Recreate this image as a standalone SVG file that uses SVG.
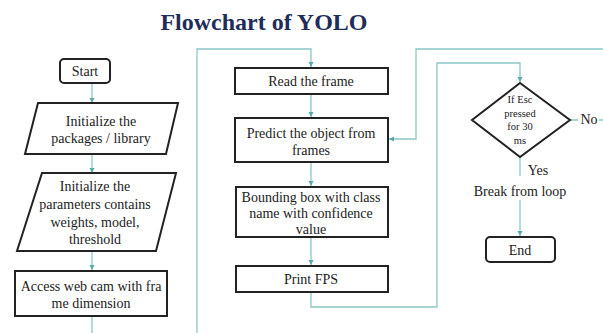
<svg xmlns="http://www.w3.org/2000/svg" width="603" height="333" viewBox="0 0 603 333">
<defs>
<marker id="ah" markerWidth="6" markerHeight="6" refX="5" refY="3" orient="auto" markerUnits="userSpaceOnUse">
<path d="M0,0.5 L5,3 L0,5.5 Z" fill="#5aa8a8"/>
</marker>
<style>
.b{fill:#fff;stroke:#222;stroke-width:2}
text{font-family:'Liberation Serif','Times New Roman',Times,serif}
.t{font-size:14px;fill:#222;text-anchor:middle}
.s{font-size:10.5px}
.c{fill:none;stroke:#8cc6c6;stroke-width:1.3}
.ca{fill:none;stroke:#8cc6c6;stroke-width:1.3;marker-end:url(#ah)}
</style>
</defs>
<rect width="603" height="333" fill="#fff"/>
<text x="264" y="30" font-weight="bold" font-size="24" fill="#1f2d5a" text-anchor="middle">Flowchart of YOLO</text>

<g id="connectors">
<path class="ca" d="M92,83 V103"/>
<path class="ca" d="M92,154 V173"/>
<path class="ca" d="M92,252 V270"/>
<path class="c" d="M92,316 V333"/>
<path class="ca" d="M197,333 V49 H311 V67"/>
<path class="ca" d="M311,94 V117"/>
<path class="ca" d="M311,162 V186"/>
<path class="ca" d="M311,237 V265"/>
<path class="ca" d="M311,292 V307 H437 V63 H520 V82"/>
<path class="c" d="M570,120 H603"/>
<path class="ca" d="M603,49 H416 V139 H389"/>
<path class="c" d="M520,157 V176"/>
<path class="ca" d="M520,200 V236"/>
</g>

<g id="start">
<rect class="b" x="60" y="59" width="50" height="24" rx="4"/>
<text class="t" x="85" y="76">Start</text>
</g>
<g id="init-packages">
<polygon class="b" points="38,103 178,103 166,154 25,154"/>
<text class="t" x="101" y="126">Initialize the</text>
<text class="t" x="101" y="143">packages / library</text>
</g>
<g id="init-params">
<polygon class="b" points="42,173 176,173 156,251 17,251"/>
<text class="t" x="95" y="191">Initialize the</text>
<text class="t" x="95" y="209">parameters contains</text>
<text class="t" x="95" y="227">weights, model,</text>
<text class="t" x="95" y="244">threshold</text>
</g>
<g id="access-cam">
<rect class="b" x="15" y="271" width="152" height="45"/>
<text class="t" x="91" y="291">Access web cam with fra</text>
<text class="t" x="91" y="308">me dimension</text>
</g>
<g id="read-frame">
<rect class="b" x="235" y="68" width="153" height="26"/>
<text class="t" x="311" y="86">Read the frame</text>
</g>
<g id="predict">
<rect class="b" x="235" y="118" width="153" height="44"/>
<text class="t" x="311" y="138">Predict the object from</text>
<text class="t" x="311" y="155">frames</text>
</g>
<g id="bbox">
<rect class="b" x="236" y="187" width="152" height="50"/>
<text class="t" x="311" y="202">Bounding box with class</text>
<text class="t" x="311" y="218">name with confidence</text>
<text class="t" x="311" y="234">value</text>
</g>
<g id="print-fps">
<rect class="b" x="236" y="266" width="152" height="26"/>
<text class="t" x="311" y="284">Print FPS</text>
</g>
<g id="decision">
<polygon class="b" points="520,83 570,120 520,157 472,120"/>
<text class="t s" x="520" y="103">If Esc</text>
<text class="t s" x="520" y="117">pressed</text>
<text class="t s" x="520" y="130">for 30</text>
<text class="t s" x="520" y="144">ms</text>
</g>
<rect x="578" y="111" width="21" height="14" fill="#fff"/>
<text class="t" x="589" y="124">No</text>
<text class="t" x="538" y="175">Yes</text>
<g id="break">
<text class="t" x="520" y="196">Break from loop</text>
</g>
<g id="end">
<rect class="b" x="486" y="237" width="69" height="25" rx="4"/>
<text class="t" x="520" y="255">End</text>
</g>
</svg>
